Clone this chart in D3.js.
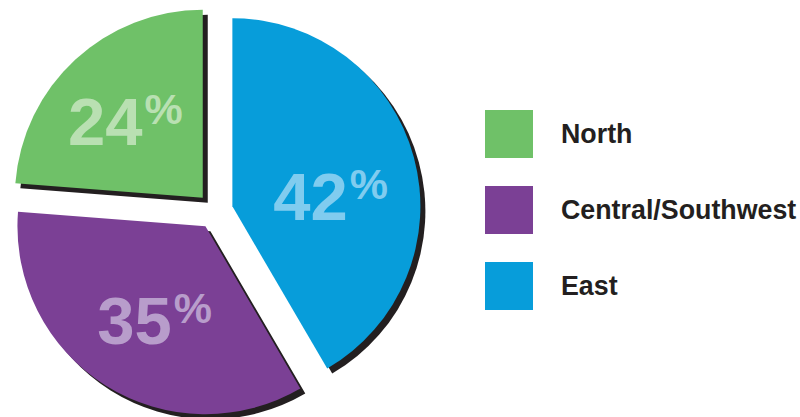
<!DOCTYPE html>
<html>
<head>
<meta charset="utf-8">
<title>Regions pie</title>
<script src="https://cdn.jsdelivr.net/npm/d3@7"></script>
<style>
  body { margin: 0; background: #fff; }
  text { font-family: "Liberation Sans", Arial, sans-serif; font-weight: bold; }
</style>
</head>
<body>
<script>
// data
var regions = ["North", "Central/Southwest", "East"];
var shares = [24, 35, 42];
var colors = ["#6fc168", "#7b4095", "#079dda"];
var labelColors = ["#b9e0b2", "#b89dcb", "#80ccef"];

var width = 800, height = 417;
var cx = 215, cy = 211, r = 188, explode = 18;
// small hand nudges so the labels sit where the original put them
var nudge = [[-6, 0], [5, 5], [-3, 17]];

var svg = d3.select("body").append("svg")
  .attr("width", width)
  .attr("height", height);

// counter-clockwise from 12 o'clock so North sits top-left
var pie = d3.pie().sort(null).startAngle(0).endAngle(-2 * Math.PI);
var arcs = pie(shares);
var arc = d3.arc().innerRadius(0).outerRadius(r);
var labelArc = d3.arc().innerRadius(105).outerRadius(105);

function shift(d) {
  var a = (d.startAngle + d.endAngle) / 2;
  return [cx + Math.sin(a) * explode, cy - Math.cos(a) * explode];
}

var g = svg.append("g");

// drop shadows first
g.selectAll("path.shadow")
  .data(arcs)
  .enter()
  .append("path")
  .attr("class", "shadow")
  .attr("d", arc)
  .attr("fill", "#231f20")
  .attr("transform", function(d) {
    var p = shift(d);
    return "translate(" + (p[0] + 5) + "," + (p[1] + 5) + ")";
  });

g.selectAll("path.slice")
  .data(arcs)
  .enter()
  .append("path")
  .attr("class", "slice")
  .attr("d", arc)
  .attr("fill", function(d, i) { return colors[i]; })
  .attr("transform", function(d) {
    var p = shift(d);
    return "translate(" + p[0] + "," + p[1] + ")";
  });

// percentage labels
var lab = g.selectAll("text.pct")
  .data(arcs)
  .enter()
  .append("text")
  .attr("class", "pct")
  .attr("fill", function(d, i) { return labelColors[i]; })
  .attr("text-anchor", "middle")
  .attr("transform", function(d, i) {
    var p = shift(d), c = labelArc.centroid(d);
    return "translate(" + (p[0] + c[0] + nudge[i][0]) + "," + (p[1] + c[1] + 24 + nudge[i][1]) + ")";
  });
lab.append("tspan")
  .attr("font-size", 67)
  .text(function(d) { return d.data; });
lab.append("tspan")
  .attr("font-size", 43)
  .attr("dx", 2)
  .attr("dy", -21)
  .text("%");

// legend
var legend = svg.selectAll("g.legend")
  .data(regions)
  .enter()
  .append("g")
  .attr("class", "legend")
  .attr("transform", function(d, i) { return "translate(485," + (110 + i * 76) + ")"; });

legend.append("rect")
  .attr("width", 48)
  .attr("height", 48)
  .attr("fill", function(d, i) { return colors[i]; });

legend.append("text")
  .attr("x", 76)
  .attr("y", 33)
  .attr("font-size", 26.8)
  .attr("fill", "#231f20")
  .text(function(d) { return d; });
</script>
</body>
</html>
